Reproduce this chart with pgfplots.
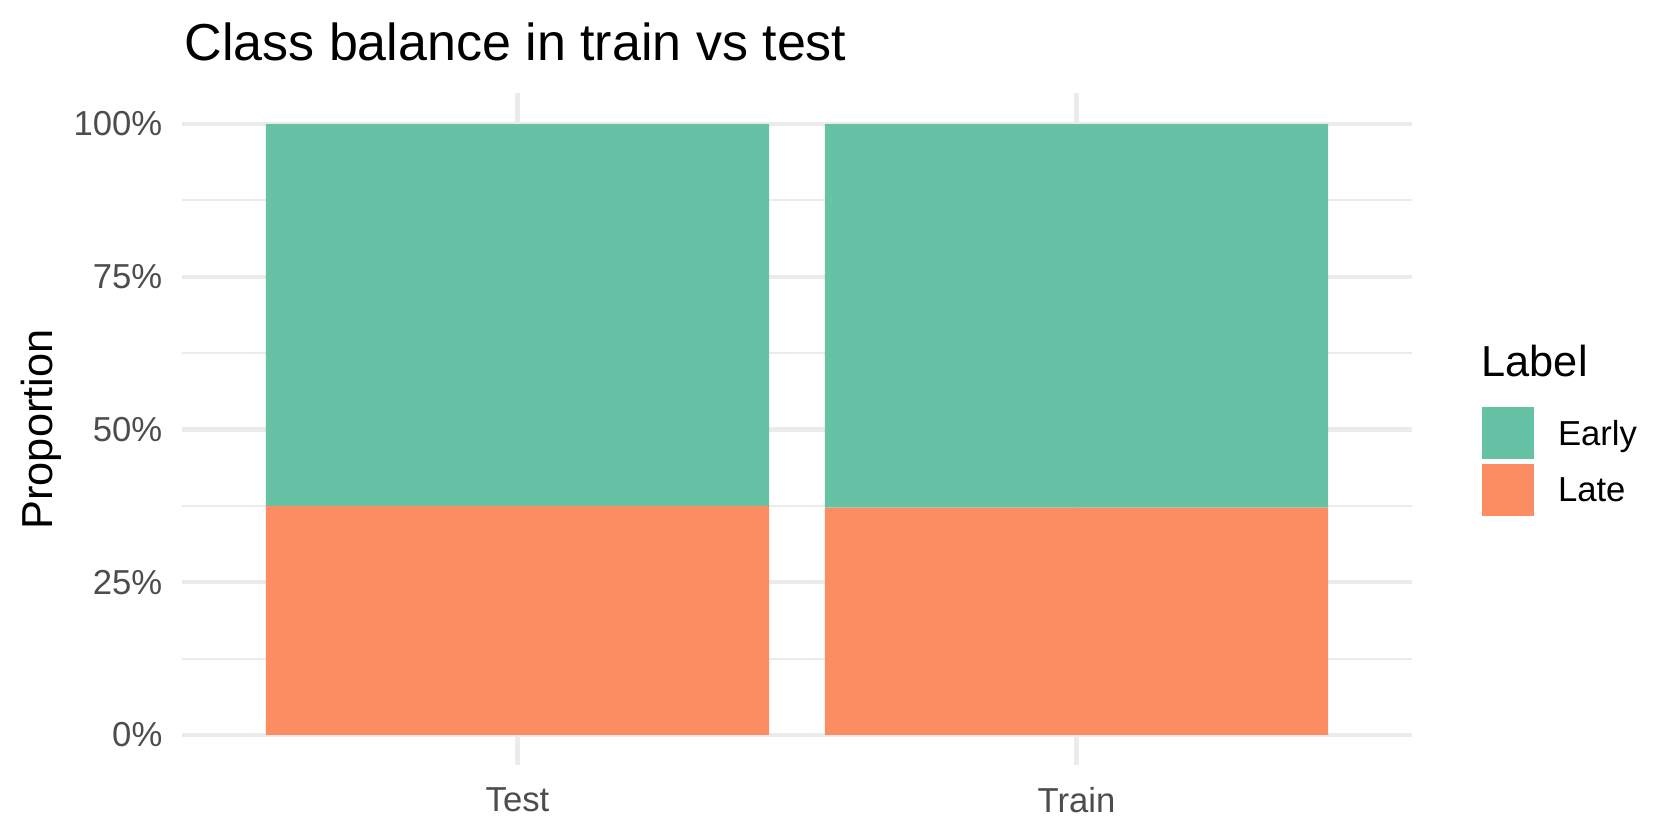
\documentclass[border=0pt]{standalone}
\usepackage{fontspec}
\setmainfont{Liberation Sans}
\usepackage{pgfplots}
\pgfplotsset{compat=1.18}
\definecolor{early}{HTML}{66C2A5}
\definecolor{late}{HTML}{FC8D62}
\definecolor{gridc}{HTML}{EBEBEB}
\definecolor{tickc}{HTML}{4D4D4D}
\begin{document}
\begin{tikzpicture}[x=1pt,y=1pt]
\path[use as bounding box] (0,0) rectangle (504,252);
\begin{axis}[
  at={(54.6pt,22.35pt)}, anchor=south west,
  scale only axis, width=369pt, height=201.6pt,
  xmin=0.4, xmax=2.6, ymin=-0.05, ymax=1.05,
  ybar stacked, bar width=0.9,
  xtick={1,2}, xticklabels={Test,Train},
  ytick={0,0.25,0.5,0.75,1}, yticklabels={0\%,25\%,50\%,75\%,100\%},
  minor ytick={0.125,0.375,0.625,0.875},
  xmajorgrids, ymajorgrids, yminorgrids,
  major grid style={draw=gridc, line width=1.26pt},
  minor grid style={draw=gridc, line width=0.63pt},
  axis line style={draw=none},
  major tick length=0pt, minor tick length=0pt,
  tick label style={font=\fontsize{10.4}{12}\selectfont, text=tickc, inner sep=0pt},
  xticklabel style={anchor=north, yshift=-6.3pt},
  yticklabel style={anchor=east, xshift=-5.7pt},
  ylabel={Proportion},
  ylabel style={font=\fontsize{13}{15}\selectfont, at={(axis description cs:-0.1146,0.5)}, anchor=center, inner sep=0pt},
  legend style={at={(axis description cs:1.0561,0.534)}, anchor=north west, draw=none, fill=none, inner sep=0pt, row sep=1.5pt, column sep=7.3pt, font=\fontsize{10.4}{12}\selectfont, nodes={inner sep=0pt}},
  legend cell align=left, reverse legend,
]
\addplot[fill=late, draw=none, legend image code/.code={\fill[late] (0pt,-7.8pt) rectangle (15.6pt,7.8pt);}] coordinates {(1,0.375) (2,0.372)};
\addlegendentry{\raisebox{-1pt}{Late}}
\addplot[fill=early, draw=none, legend image code/.code={\fill[early] (0pt,-7.8pt) rectangle (15.6pt,7.8pt);}] coordinates {(1,0.625) (2,0.628)};
\addlegendentry{\raisebox{-1pt}{Early}}
\end{axis}
\node[anchor=base west, inner sep=0pt, font=\fontsize{15.6}{18}\selectfont] at (55.2,233.7) {Class balance in train vs test};
\node[anchor=base west, inner sep=0pt, font=\fontsize{13}{15}\selectfont] at (444.3,138.9) {Label};
\end{tikzpicture}
\end{document}
